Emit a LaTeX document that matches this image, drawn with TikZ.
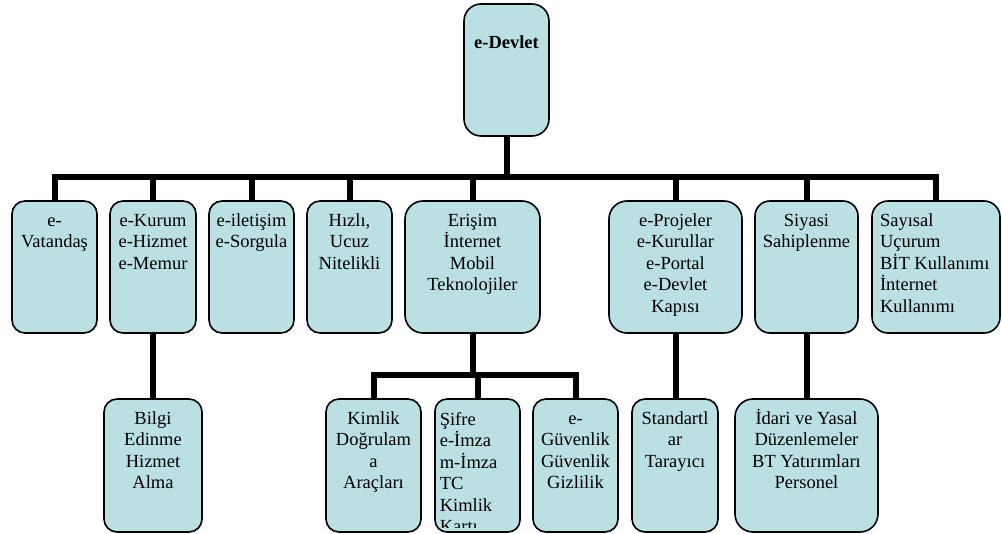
\documentclass[tikz,border=0pt]{standalone}
\usepackage{fontspec}
\setmainfont{Liberation Serif}
\definecolor{eDevletKutu}{RGB}{186,224,228}
\newcommand{\kutuhiza}{\centering}
\tikzset{
  sola/.code={\def\kutuhiza{\raggedright\leftskip=#1\relax}},
  yazi/.style n args={2}{inner xsep=4pt, inner ysep=0pt,
    execute at begin node={\begin{minipage}[t][#2pt][t]{\dimexpr#1pt-8pt\relax}\kutuhiza\rule{0pt}{25.5pt}},
    execute at end node={\end{minipage}}},
  kutu/.style n args={3}{yazi={#1}{#2}, draw=black, line width=1.6pt, fill=eDevletKutu, rounded corners=#3pt},
  baglanti/.style={line width=6pt, line join=miter, line cap=butt}
}

\begin{document}
\begin{tikzpicture}[x=1pt,y=-1pt,font=\fontsize{18.5}{21.5}\selectfont]
\useasboundingbox (0,0) rectangle (1002,534);
% ust kutu
\node[kutu={85}{132}{17}] (devlet) at (506.5,70) {\rule{0pt}{45pt}\textbf{e-Devlet}};
% birinci sira
\node[kutu={85}{132}{13}] (vatandas) at (54.5,267) {e-\\Vatandaş};
\node[kutu={86}{132}{13}] (kurum) at (153,267) {e-Kurum\\e-Hizmet\\e-Memur};
\node[kutu={85}{132}{13}] (iletisim) at (251.5,267) {e-iletişim\\e-Sorgula};
\node[kutu={85}{132}{13}] (hizli) at (349.5,267) {Hızlı,\\Ucuz\\Nitelikli};
\node[kutu={135}{132}{18}] (erisim) at (472.5,267) {Erişim\\İnternet\\Mobil\\Teknolojiler};
\node[kutu={133}{132}{18}] (proje) at (675.5,267) {e-Projeler\\e-Kurullar\\e-Portal\\e-Devlet\\Kapısı};
\node[kutu={103}{132}{15}] (siyasi) at (806.5,267) {Siyasi\\Sahiplenme};
\node[kutu={128}{132}{16}, sola=4pt] (sayisal) at (936,267) {Sayısal\\Uçurum\\BİT Kullanımı\\İnternet\\Kullanımı};
% ikinci sira
\node[kutu={98}{133}{13}] (bilgi) at (153,465.5) {Bilgi\\Edinme\\Hizmet\\Alma};
\node[kutu={95}{133}{13}] (kimlik) at (373.5,465.5) {Kimlik\\Doğrulam\\a\\Araçları};
\node[kutu={85}{133}{12}, path picture={
   \clip (path picture bounding box.north west) rectangle ([yshift=4pt]path picture bounding box.south east);
   \node[yazi={85}{133}, sola=0pt, anchor=north west] (sifreyazi) at (path picture bounding box.north west)
      {Şifre\\e-İmza\\m-İmza\\TC\\Kimlik\\Kartı};
}] (sifre) at (477.5,465.5) {};
\node[kutu={85}{133}{13}] (guvenlik) at (575.5,465.5) {e-\\Güvenlik\\Güvenlik\\Gizlilik};
\node[kutu={86}{133}{13}] (standart) at (675,465.5) {Standartl\\ar\\Tarayıcı};
\node[kutu={143}{133}{18}] (idari) at (806.5,465.5) {İdari ve Yasal\\Düzenlemeler\\BT Yatırımları\\Personel};
% baglantilar
\coordinate (ustbar) at (506.5,177);
\coordinate (altbar) at (472.5,375.5);
\draw[baglanti] (devlet.south) -- (ustbar);
\draw[baglanti] (vatandas.north) |- (ustbar) -| (sayisal.north);
\foreach \n in {kurum,iletisim,hizli,erisim,proje,siyasi}
  \draw[baglanti] (\n.north) -- (\n.north |- ustbar);
\draw[baglanti] (erisim.south) -- (altbar);
\draw[baglanti] (kimlik.north) |- (altbar) -| (guvenlik.north);
\draw[baglanti] (sifre.north) -- (sifre.north |- altbar);
\foreach \a/\b in {kurum/bilgi,proje/standart,siyasi/idari}
  \draw[baglanti] (\a.south) -- (\a.south |- \b.north);
\end{tikzpicture}
\end{document}
